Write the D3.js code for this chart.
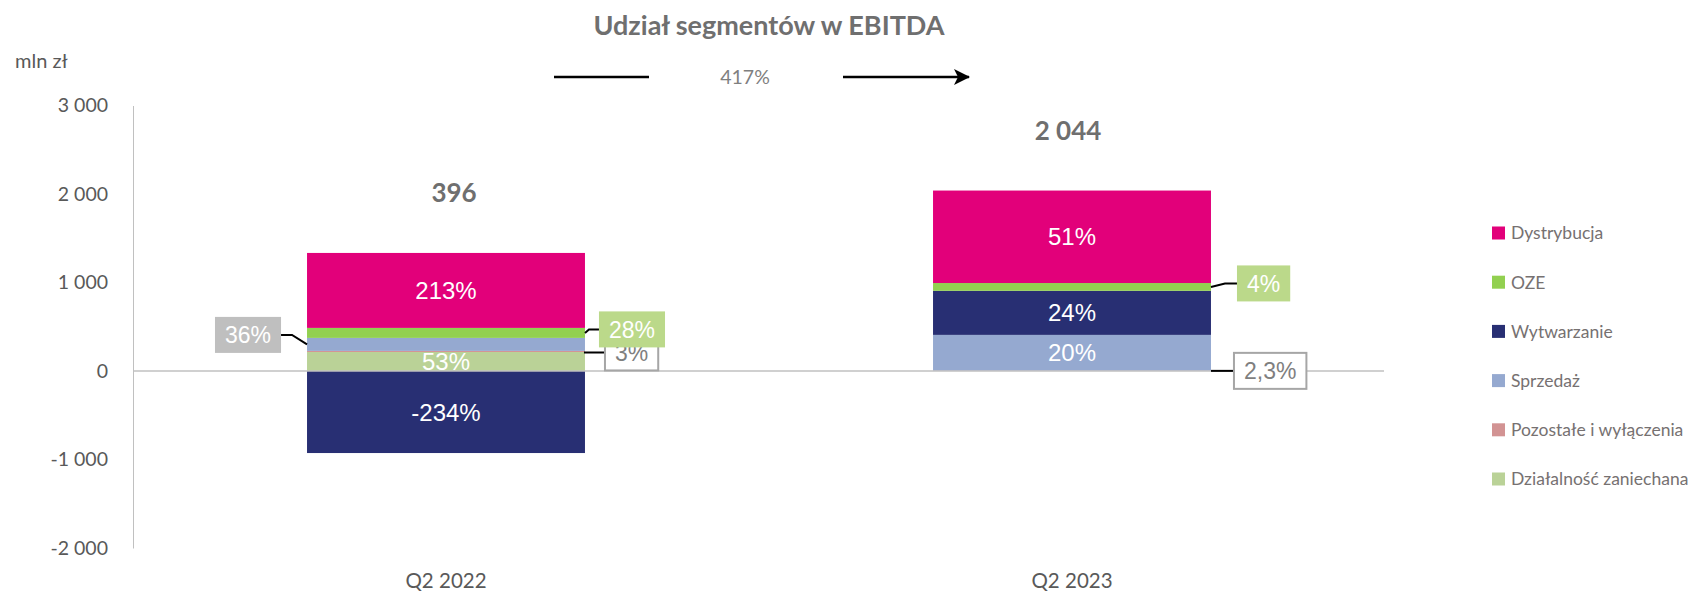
<!DOCTYPE html>
<html><head><meta charset="utf-8">
<script src="https://cdn.jsdelivr.net/npm/d3@7"></script>
<style>body{margin:0;background:#fff}svg{display:block}</style>
</head><body><svg id="c" width="1696" height="592"></svg>
<script>
const categories = ["Q2 2022", "Q2 2023"];
const seriesNames = ["Dystrybucja", "OZE", "Wytwarzanie", "Sprzedaż", "Pozostałe i wyłączenia", "Działalność zaniechana"];
const seriesColors = ["#E2007A", "#92D050", "#282F73", "#95A9D0", "#D29393", "#BAD297"];
// values in mln zł, per series: [Q2 2022, Q2 2023]
const dystrybucja = [847, 1045];
const oze = [113, 88];
const wytwarzanie = [-927, 498];
const sprzedaz = [147, 405];
const pozostale = [12, 3];
const dzialalnosc = [215, 0];
// share labels per series: [Q2 2022, Q2 2023]
const labelDystrybucja = ["213%", "51%"];
const labelOze = ["28%", "4%"];
const labelWytwarzanie = ["-234%", "24%"];
const labelSprzedaz = ["36%", "20%"];
const labelPozostale = ["3%", "2,3%"];
const labelDzialalnosc = ["53%", ""];
const totals = ["396", "2 044"];
const growthLabel = "417%";
const yTicks = [-2000, -1000, 0, 1000, 2000, 3000];
const yUnit = "mln zł";
const title = "Udział segmentów w EBITDA";

const seriesValues = [dystrybucja, oze, wytwarzanie, sprzedaz, pozostale, dzialalnosc];
const seriesLabels = [labelDystrybucja, labelOze, labelWytwarzanie, labelSprzedaz, labelPozostale, labelDzialalnosc];
// stacking order bottom→top
const stackOrder = ["Działalność zaniechana", "Pozostałe i wyłączenia", "Sprzedaż", "Wytwarzanie", "OZE", "Dystrybucja"];

const rows = categories.map((c, i) => {
  const r = {cat: c};
  seriesNames.forEach((s, k) => r[s] = seriesValues[k][i]);
  return r;
});

const svg = d3.select("#c");
const x = d3.scaleBand().domain(categories).range([133, 1385]).paddingInner(0.556).paddingOuter(0.278);
const y = d3.scaleLinear().domain([-2000, 3000]).range([548, 105.5]);
const color = d3.scaleOrdinal().domain(seriesNames).range(seriesColors);
const fmt = v => d3.format(",")(v).replace(/,/g, " ").replace("\u2212", "-");

// title
svg.append("text").attr("x", 769).attr("y", 35).attr("text-anchor", "middle")
  .attr("font-family", "Lato").attr("font-weight", 700).attr("font-size", 27).attr("fill", "#6f6f6f").text(title);
svg.append("text").attr("x", 15).attr("y", 68).attr("font-family", "Lato").attr("font-size", 20).attr("fill", "#595959").text(yUnit);

// y axis
const yAxis = d3.axisLeft(y).tickValues(yTicks).tickSize(0).tickPadding(25).tickFormat(fmt);
const ga = svg.append("g").attr("transform", "translate(133,0)").call(yAxis);
ga.select(".domain").attr("stroke", "#c0c0c0");
ga.selectAll("text").attr("font-family", "Lato").attr("font-size", 19.5).attr("fill", "#595959");

// x axis labels
const xAxis = d3.axisBottom(x).tickSize(0).tickPadding(0);
const gx = svg.append("g").attr("transform", "translate(0,588)").call(xAxis);
gx.select(".domain").remove();
gx.selectAll("text").attr("font-family", "Lato").attr("font-size", 20.5).attr("fill", "#595959").attr("dy", 0);

// stack
const stack = d3.stack().keys(stackOrder).offset(d3.stackOffsetDiverging);
const layers = stack(rows);

svg.append("g").selectAll("g").data(layers).join("g")
  .attr("fill", d => color(d.key))
  .selectAll("rect").data(d => d).join("rect")
  .attr("x", d => x(d.data.cat))
  .attr("width", x.bandwidth())
  .attr("y", d => y(Math.max(d[0], d[1])))
  .attr("height", d => Math.abs(y(d[0]) - y(d[1])));

// zero line
svg.append("line").attr("x1", 133).attr("x2", 1384).attr("y1", y(0)).attr("y2", y(0)).attr("stroke", "#c0c0c0").attr("stroke-width", 1.3);

const segOf = (name, ci) => layers.find(l => l.key === name)[ci];
const labOf = (name, ci) => seriesLabels[seriesNames.indexOf(name)][ci];

// inside labels
const inside = [["Dystrybucja",0],["Działalność zaniechana",0],["Wytwarzanie",0],
                ["Dystrybucja",1],["Wytwarzanie",1],["Sprzedaż",1]];
inside.forEach(([n, ci]) => {
  const s = segOf(n, ci);
  svg.append("text").attr("x", x(categories[ci]) + x.bandwidth()/2).attr("y", (y(s[0]) + y(s[1]))/2)
    .attr("dy", "0.36em").attr("text-anchor", "middle").attr("font-family", "Liberation Sans, Arial")
    .attr("font-size", 24).attr("fill", "#fff").text(labOf(n, ci));
});

// callouts
const callouts = [
  {n: "Pozostałe i wyłączenia", ci: 0, side: "r", gap: 20, dy: 1, bg: "#fff", border: "#a6a6a6", tc: "#7f7f7f", bend: 0},
  {n: "Pozostałe i wyłączenia", ci: 1, side: "r", gap: 23, dy: 0, bg: "#fff", border: "#a6a6a6", tc: "#7f7f7f", bend: 0},
  {n: "OZE", ci: 0, side: "r", gap: 14, dy: -3.5, bg: "#BBD98A", border: null, tc: "#fff", bend: 4},
  {n: "OZE", ci: 1, side: "r", gap: 26, dy: -3.5, bg: "#BBD98A", border: null, tc: "#fff", bend: 14},
  {n: "Sprzedaż", ci: 0, side: "l", gap: 26, dy: -9.5, bg: "#BFBFBF", border: null, tc: "#fff", bend: 15}
];
callouts.forEach(c => {
  const s = segOf(c.n, c.ci);
  const sy = (y(s[0]) + y(s[1]))/2;
  const bx0 = x(categories[c.ci]), bx1 = bx0 + x.bandwidth();
  const by = sy + c.dy;
  const g = svg.append("g");
  const t = g.append("text").attr("font-family", "Liberation Sans, Arial").attr("font-size", 23)
    .attr("fill", c.tc).attr("text-anchor", "middle").attr("dy", "0.36em").text(labOf(c.n, c.ci));
  const tw = t.node().getComputedTextLength();
  const w = tw + 20, h = 36;
  let boxX, pts;
  if (c.side === "r") {
    boxX = bx1 + c.gap;
    pts = [[bx1, sy], [bx1 + Math.min(c.bend, c.gap), by], [boxX, by]];
  } else {
    boxX = bx0 - c.gap - w;
    pts = [[bx0, sy], [bx0 - c.bend, by], [bx0 - c.gap, by]];
  }
  g.insert("path", "text").attr("d", d3.line()(pts)).attr("fill", "none").attr("stroke", "#000").attr("stroke-width", 2);
  g.insert("rect", "text").attr("x", boxX).attr("y", by - h/2).attr("width", w).attr("height", h)
    .attr("fill", c.bg).attr("stroke", c.border || "none").attr("stroke-width", 2);
  t.attr("x", boxX + w/2).attr("y", by);
});

// totals
const totalDx = [8, -4];
categories.forEach((c, ci) => {
  const top = d3.max(layers, l => l[ci][1]);
  svg.append("text").attr("x", x(c) + x.bandwidth()/2 + totalDx[ci]).attr("y", y(top) - 51).attr("text-anchor", "middle")
    .attr("font-family", "Lato").attr("font-weight", 700).attr("font-size", 26).attr("fill", "#6f6f6f").text(totals[ci]);
});

// growth arrow
svg.append("defs").append("marker").attr("id", "ah").attr("viewBox", "0 0 16 16").attr("refX", 15).attr("refY", 8)
  .attr("markerWidth", 16).attr("markerHeight", 16).attr("markerUnits", "userSpaceOnUse").attr("orient", "auto")
  .append("path").attr("d", "M0,0 L16,8 L0,16 L4,8 Z").attr("fill", "#000");
svg.append("line").attr("x1", 554).attr("x2", 649).attr("y1", 77).attr("y2", 77).attr("stroke", "#000").attr("stroke-width", 2.5);
svg.append("line").attr("x1", 843).attr("x2", 969).attr("y1", 77).attr("y2", 77).attr("stroke", "#000").attr("stroke-width", 2.5).attr("marker-end", "url(#ah)");
svg.append("text").attr("x", 745).attr("y", 84).attr("text-anchor", "middle").attr("font-family", "Lato")
  .attr("font-size", 19.5).attr("fill", "#7f7f7f").text(growthLabel);

// legend
const lg = svg.append("g").selectAll("g").data(seriesNames).join("g")
  .attr("transform", (d, i) => `translate(1492,${233 + i*49.2})`);
lg.append("rect").attr("x", 0).attr("y", -6.5).attr("width", 13).attr("height", 13).attr("fill", d => color(d));
lg.append("text").attr("x", 19).attr("dy", "0.36em").attr("font-family", "Lato").attr("font-size", 17.5).attr("fill", "#767171").text(d => d);
</script></body></html>
